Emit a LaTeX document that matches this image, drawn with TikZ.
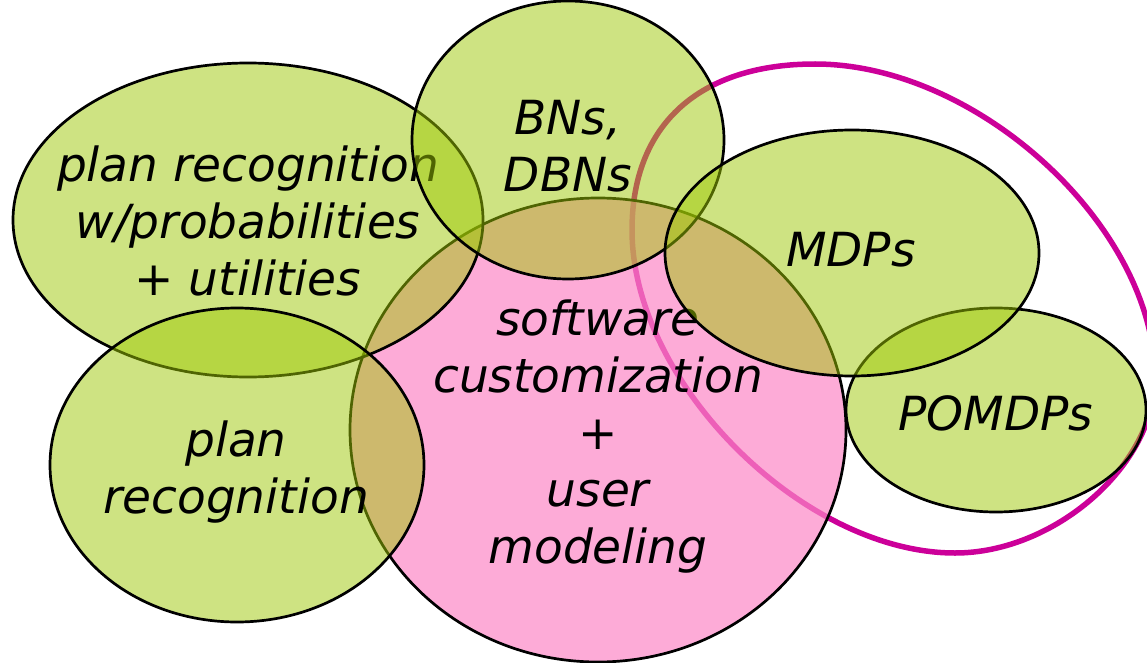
\documentclass[tikz,border=0pt]{standalone}
\usepackage{fontspec}
\setmainfont{DejaVu Sans}
\definecolor{leaf}{RGB}{158,200,5}
\definecolor{blush}{RGB}{252,136,198}
\definecolor{plum}{RGB}{204,0,153}
\tikzset{
  greenblob/.style={fill=leaf, fill opacity=0.5, draw=black, line width=2.7pt},
  pinkblob/.style={fill=blush, fill opacity=0.7, draw=black, line width=2.7pt},
  blobtext/.style={font=\fontsize{47}{57}\selectfont\itshape, align=center, text=black, inner sep=0pt},
  loop/.style={draw=plum, line width=5.5pt}
}
\begin{document}
\begin{tikzpicture}[x=1pt,y=-1pt]
\useasboundingbox (0,0) rectangle (1147,663);
\clip (0,0) rectangle (1147,663);

% grouping of the decision models
\coordinate (gl) at (632,230);
\coordinate (gt) at (815,64);
\coordinate (gr) at (1155,378);
\coordinate (gb) at (955,553);
\draw[loop] (gl) .. controls (632,124) and (700,64) .. (gt)
            .. controls (978,64) and (1155,227) .. (gr)
            .. controls (1155,465) and (1055,553) .. (gb)
            .. controls (803,553) and (632,382) .. cycle;

% central topic
\draw[pinkblob] (598,430) ellipse [x radius=248pt, y radius=232pt];
\node[blobtext] (soft) at (598,437) {software\\customization\\+\\user\\modeling};

% surrounding techniques
\draw[greenblob] (248,220) ellipse [x radius=235pt, y radius=157pt];
\node[blobtext] (prob) at (248,221) {plan recognition\\w/probabilities\\+ utilities};

\draw[greenblob] (237,465) ellipse [x radius=187pt, y radius=157pt];
\node[blobtext] (plan) at (236,472) {plan\\recognition};

\draw[greenblob] (568,140) ellipse [x radius=156pt, y radius=139pt];
\node[blobtext] (bns) at (568,146) {BNs,\\DBNs};

\draw[greenblob] (996,410) ellipse [x radius=150pt, y radius=102pt];
\node[blobtext] (pomdp) at (996,413) {POMDPs};

\draw[greenblob] (852,253) ellipse [x radius=187pt, y radius=123pt];
\node[blobtext] (mdp) at (851,250) {MDPs};
\end{tikzpicture}
\end{document}
